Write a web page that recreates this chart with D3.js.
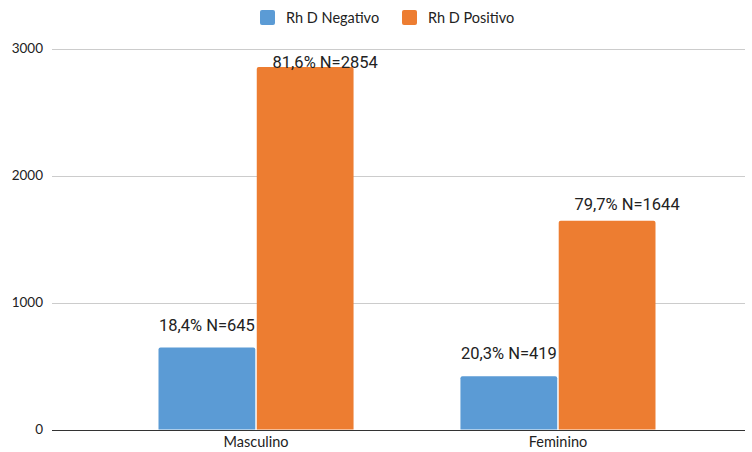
<!DOCTYPE html>
<html>
<head>
<meta charset="utf-8">
<script src="https://cdn.jsdelivr.net/npm/d3@7"></script>
<style>
  html, body { margin: 0; padding: 0; background: #fff; }
  svg { display: block; }
</style>
</head>
<body>
<svg id="chart" width="752" height="452"></svg>
<script>
// Rh D distribution by sex
const categories = ["Masculino", "Feminino"];
const seriesNames = ["Rh D Negativo", "Rh D Positivo"];
const negativo = [645, 419];
const positivo = [2854, 1644];
const negativoPct = ["18,4%", "20,3%"];
const positivoPct = ["81,6%", "79,7%"];
const yTicks = [0, 1000, 2000, 3000];
const colors = ["#5b9bd5", "#ed7d31"];

const svg = d3.select("#chart");
const plotLeft = 52, plotRight = 745;

const y = d3.scaleLinear().domain([0, 3000]).range([429.5, 48.5]);

const x0 = d3.scaleBand().domain(categories).range([158.5, 655.5]).paddingInner(0.354).paddingOuter(0);
const x1 = d3.scaleBand().domain(seriesNames).range([0, x0.bandwidth()]).paddingInner(0.015);

// gridlines
svg.append("g").selectAll("line").data(yTicks.filter(d => d !== 0)).join("line")
  .attr("x1", plotLeft).attr("x2", plotRight)
  .attr("y1", d => Math.round(y(d)) + 0.5).attr("y2", d => Math.round(y(d)) + 0.5)
  .attr("stroke", "#cccccc").attr("stroke-width", 1);

// y-axis tick labels
svg.append("g").selectAll("text").data(yTicks).join("text")
  .attr("x", 43).attr("y", d => y(d) + 4.5)
  .attr("text-anchor", "end")
  .attr("font-family", "Lato, 'Open Sans', sans-serif")
  .attr("font-size", 13.5).attr("fill", "#222")
  .text(d => d);

// bars
const rows = categories.map((c, i) => ({
  cat: c,
  vals: [
    { s: seriesNames[0], v: negativo[i], label: negativoPct[i] + " N=" + negativo[i] },
    { s: seriesNames[1], v: positivo[i], label: positivoPct[i] + " N=" + positivo[i] }
  ]
}));

const groups = svg.append("g").selectAll("g").data(rows).join("g")
  .attr("transform", d => `translate(${x0(d.cat)},0)`);

function roundTopRect(x, yTop, w, h, r) {
  return `M${x},${yTop + h}V${yTop + r}Q${x},${yTop} ${x + r},${yTop}H${x + w - r}Q${x + w},${yTop} ${x + w},${yTop + r}V${yTop + h}Z`;
}

groups.selectAll("path").data(d => d.vals).join("path")
  .attr("d", d => roundTopRect(x1(d.s), y(d.v), x1.bandwidth(), y(0) - y(d.v), 2))
  .attr("fill", (d, i) => colors[i]);

// value labels
const labelShift = { "Rh D Negativo": [0, -17], "Rh D Positivo": [20, -11] };
groups.selectAll("text").data(d => d.vals).join("text")
  .attr("x", d => x1(d.s) + x1.bandwidth() / 2 + labelShift[d.s][0])
  .attr("y", d => Math.max(y(d.v) + labelShift[d.s][1], 68))
  .attr("text-anchor", "middle")
  .attr("font-family", "Roboto, sans-serif")
  .attr("font-size", 16.5).attr("fill", "#222")
  .text(d => d.label);

// baseline
svg.append("line")
  .attr("x1", plotLeft).attr("x2", plotRight)
  .attr("y1", Math.round(y(0)) + 0.5).attr("y2", Math.round(y(0)) + 0.5)
  .attr("stroke", "#333").attr("stroke-width", 1);

// category labels
svg.append("g").selectAll("text").data(categories).join("text")
  .attr("x", d => x0(d) + x0.bandwidth() / 2)
  .attr("y", 447)
  .attr("text-anchor", "middle")
  .attr("font-family", "Lato, 'Open Sans', sans-serif")
  .attr("font-size", 14.5).attr("fill", "#222")
  .text(d => d);

// legend
const legendX = [260, 402];
const legend = svg.append("g").selectAll("g").data(seriesNames).join("g")
  .attr("transform", (d, i) => `translate(${legendX[i]},10)`);
legend.append("rect").attr("width", 15).attr("height", 15).attr("rx", 2).attr("fill", (d, i) => colors[i]);
legend.append("text").attr("x", 26).attr("y", 12.5)
  .attr("font-family", "Lato, 'Open Sans', sans-serif")
  .attr("font-size", 14.5).attr("fill", "#222")
  .text(d => d);
</script>
</body>
</html>
